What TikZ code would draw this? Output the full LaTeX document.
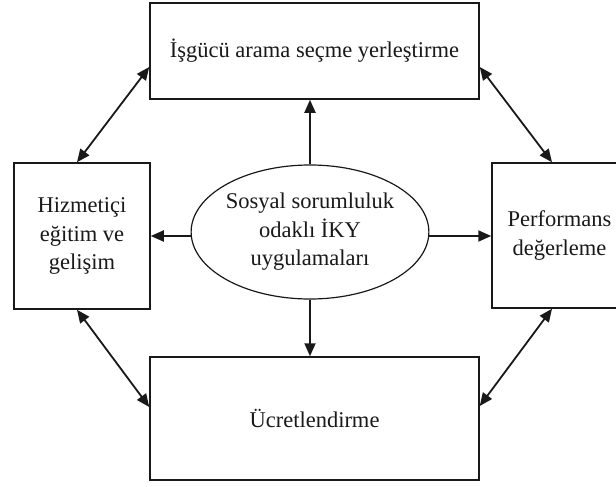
\documentclass[tikz,border=0pt]{standalone}
\usepackage{fontspec}
\setmainfont{Liberation Serif}
\usetikzlibrary{arrows.meta,shapes.geometric}
\begin{document}
\begin{tikzpicture}[x=1pt,y=-1pt,
  every node/.style={font=\fontsize{22.5}{28.5}\selectfont, text=black!90},
  box/.style={draw=black!90, line width=1.5pt, rectangle, inner sep=0pt, align=center},
  hub/.style={draw=black!90, line width=1.2pt, ellipse, inner sep=0pt, align=center,
              minimum width=228pt, minimum height=134pt},
  tip/.tip={Triangle[length=13pt,width=11pt]},
  link/.style={draw=black!90, line width=1.8pt, -tip},
  duo/.style={draw=black!90, line width=1.8pt, tip-tip}]
  \clip (0,0) rectangle (616,487);
  \fill[white] (0,0) rectangle (616,487);

  % surrounding practice areas
  \node[box, minimum width=329pt, minimum height=96pt] (T) at (314.5,51)
    {İşgücü arama seçme yerleştirme};
  \node[box, minimum width=329pt, minimum height=123pt] (B) at (314.5,418.5)
    {Ücretlendirme};
  \node[box, minimum width=136pt, minimum height=146pt] (L) at (82,236)
    {Hizmetiçi\\eğitim ve\\gelişim};
  \node[box, minimum width=135pt, minimum height=145pt] (R) at (559.5,235.5)
    {Performans\\değerleme};

  % central ellipse
  \node[hub] (E) at (310,232) {Sosyal sorumluluk\\odaklı İKY\\uygulamaları};

  % arrows from the centre outwards
  \draw[link] (E.north) -- (E.north |- T.south);
  \draw[link] (E.south) -- (E.south |- B.north);
  \draw[link] (E.west |- L.east) -- (L.east);
  \draw[link] (E.east |- L.east) -- (L.east -| R.west);

  % two-way links between neighbouring areas
  \draw[duo] ([xshift=-5pt]L.north) -- ([yshift=-16pt]T.west);
  \draw[duo] ([yshift=-16pt]T.east) -- ([xshift=-7.5pt]R.north);
  \draw[duo] ([xshift=-5pt]L.south) -- ([yshift=11.5pt]B.west);
  \draw[duo] ([xshift=-7.5pt]R.south) -- ([yshift=12.5pt]B.east);
\end{tikzpicture}
\end{document}
